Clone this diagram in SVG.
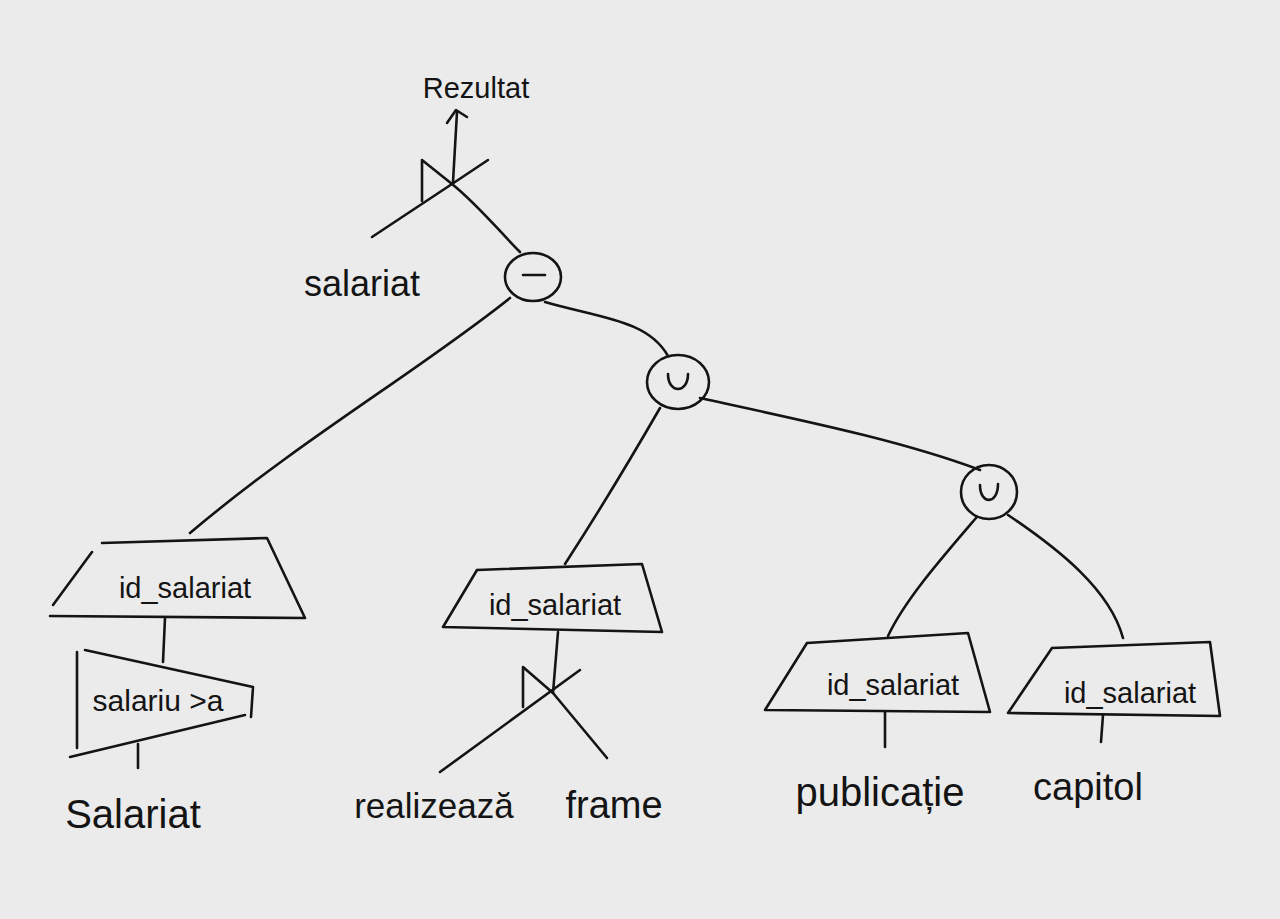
<svg xmlns="http://www.w3.org/2000/svg" width="1280" height="919" viewBox="0 0 1280 919">
<defs>
<style>
.ln{fill:none;stroke:#141414;stroke-width:2.6;stroke-linecap:round;stroke-linejoin:round}
.shape{fill:none;stroke:#141414;stroke-width:2.6;stroke-linecap:round;stroke-linejoin:round}
.t{font-family:"Liberation Sans","DejaVu Sans",sans-serif;fill:#141414;text-anchor:middle}
.lab{font-size:29px}
</style>
</defs>
<rect width="1280" height="919" fill="#ebebeb"/>

<g id="result">
<text class="t" x="476" y="98" font-size="29">Rezultat</text>
</g>

<g id="join-top">
<path class="shape" d="M422 201 L422 160 L452 184 L488 160"/>
<path class="shape" d="M372 237 L452 184"/>
</g>

<g id="rel-salariat-top">
<text class="t" x="362" y="296" font-size="36">salariat</text>
</g>

<g id="minus">
<ellipse class="shape" cx="533" cy="277" rx="28" ry="24"/>
<path class="ln" d="M523 275 L545 275" stroke-width="4"/>
</g>

<g id="union1">
<ellipse class="shape" cx="678" cy="382" rx="31" ry="27"/>
<path class="ln" d="M668 374 C668 394 688 394 688 374"/>
</g>

<g id="union2">
<ellipse class="shape" cx="989" cy="492" rx="28" ry="27"/>
<path class="ln" d="M980 485 C980 505 998 505 998 484"/>
</g>

<g id="proj1">
<path class="shape" d="M102 543 L267 538 L305 618 L50 616 M92 552 L53 605"/>
<text class="t lab" x="185" y="598">id_salariat</text>
</g>

<g id="select1">
<path class="shape" d="M77 652 L77 748 M85 650 L253 687 L251 717 M70 757 L245 715"/>
<text class="t" x="158" y="711" font-size="30">salariu &gt;a</text>
</g>

<g id="rel-salariat">
<text class="t" x="133" y="828" font-size="40">Salariat</text>
</g>

<g id="proj2">
<path class="shape" d="M477 570 L642 564 L662 632 L443 627 L477 570"/>
<text class="t lab" x="555" y="615">id_salariat</text>
</g>

<g id="join2">
<path class="shape" d="M523 707 L523 667 L553 693 L607 758"/>
<path class="shape" d="M440 772 L580 670"/>
</g>

<g id="rel-realizeaza">
<text class="t" x="434" y="818" font-size="35">realizează</text>
</g>

<g id="rel-frame">
<text class="t" x="614" y="818" font-size="38">frame</text>
</g>

<g id="proj3">
<path class="shape" d="M807 643 L968 633 L990 712 L765 710 L807 643"/>
<text class="t lab" x="893" y="695">id_salariat</text>
</g>

<g id="rel-publicatie">
<text class="t" x="880" y="806" font-size="40">publicație</text>
</g>

<g id="proj4">
<path class="shape" d="M1052 648 L1210 642 L1220 716 L1008 713 L1052 648"/>
<text class="t lab" x="1130" y="703">id_salariat</text>
</g>

<g id="rel-capitol">
<text class="t" x="1088" y="800" font-size="38">capitol</text>
</g>

<g id="connectors">
<path class="ln" d="M453 182 L457 112"/>
<path class="ln" d="M447 123 L456 110 L467 117"/>
<path class="ln" d="M452 184 C478 205 498 230 520 252"/>
<path class="ln" d="M510 298 C420 370 300 440 190 533"/>
<path class="ln" d="M545 302 C600 318 648 320 668 356"/>
<path class="ln" d="M660 408 C630 460 600 510 565 564"/>
<path class="ln" d="M700 398 C800 420 900 440 980 470"/>
<path class="ln" d="M976 518 C940 560 905 600 888 636"/>
<path class="ln" d="M1008 515 C1060 550 1110 590 1123 638"/>
<path class="ln" d="M165 618 L163 662"/>
<path class="ln" d="M138 744 L138 768"/>
<path class="ln" d="M558 632 L553 693"/>
<path class="ln" d="M885 712 L885 747"/>
<path class="ln" d="M1103 715 L1101 742"/>
</g>
</svg>
